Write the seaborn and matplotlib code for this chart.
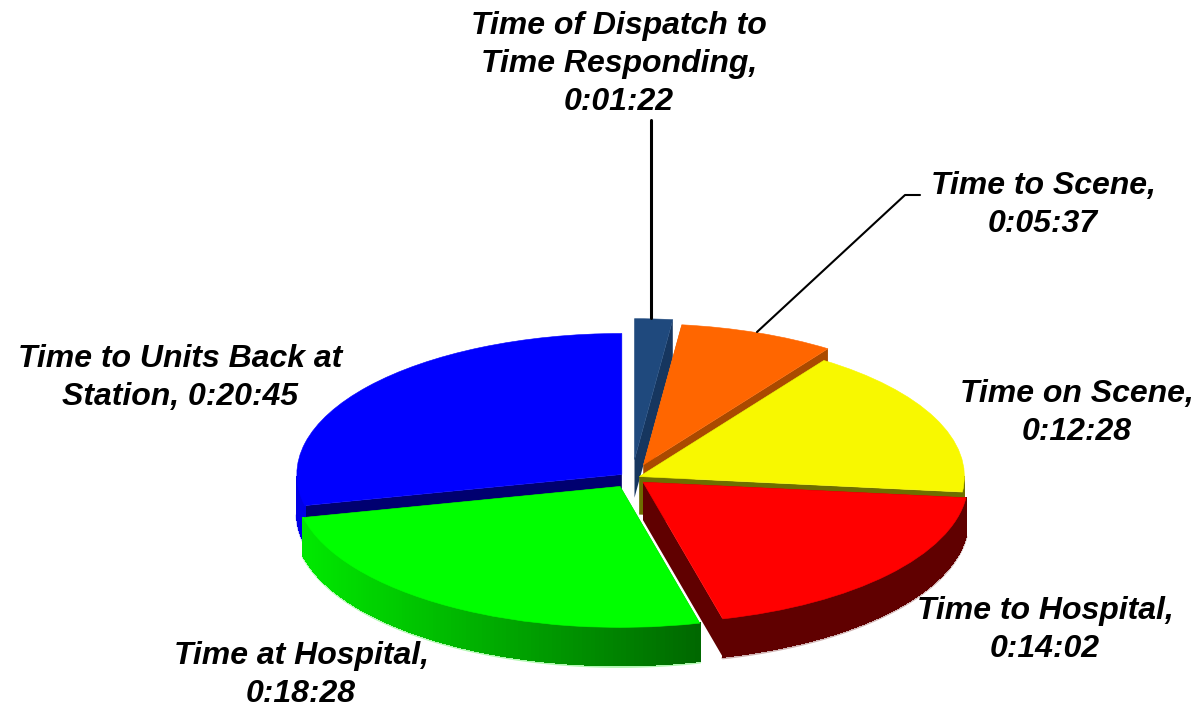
import numpy as np
import seaborn as sns
import matplotlib
matplotlib.use("Agg")
import matplotlib.pyplot as plt
from matplotlib.lines import Line2D
from matplotlib.colors import to_rgb

# Chart data, clockwise from the top
names = [
    "Time of Dispatch to\nTime Responding,",
    "Time to Scene,",
    "Time on Scene,",
    "Time to Hospital,",
    "Time at Hospital,",
    "Time to Units Back at\nStation,",
]
times = ["0:01:22", "0:05:37", "0:12:28", "0:14:02", "0:18:28", "0:20:45"]
explode = [0.13, 0.10, 0.025, 0.045, 0.07, 0.04]
top_colors = ["#1F497D", "#FF6600", "#F8F800", "#FF0000", "#00FF00", "#0000FF"]
rim_left = ["#16365F", "#AA4A00", "#6E6E00", "#600000", "#00E800", "#0000E6"]
rim_right = ["#16365F", "#AA4A00", "#6E6E00", "#600000", "#006800", "#0000E6"]
cut_colors = ["#16365F", "#AA4A00", "#6E6E00", "#600000", "#006800", "#000070"]

W, H = 1203, 707
CX, CY = 632, 478
RX, RY = 325, 141
DEPTH = 38


# Turn h:mm:ss into seconds
def to_seconds(text):
    h, m, s = text.split(":")
    return int(h) * 3600 + int(m) * 60 + int(s)


# Figure position from reference pixels
def px(x, y):
    return x / W, 1 - y / H


values = [to_seconds(t) for t in times]

sns.set_theme(style="white")
plt.rcParams["font.family"] = ["Liberation Sans", "DejaVu Sans"]

fig = plt.figure(figsize=(W / 100, H / 100), dpi=100)
ax = fig.add_axes([0, 0, 1, 1])
wedges, _ = ax.pie(
    values,
    explode=explode,
    colors=sns.color_palette(top_colors),
    startangle=90,
    counterclock=False,
    radius=1,
)
# Squash the pie into the tilted ellipse
ax.set_aspect("auto")
ax.set_xlim(-CX / RX, (W - CX) / RX)
ax.set_ylim(-(H - CY) / RY, CY / RY)
ax.axis("off")

depth = DEPTH / RY
# Back to front drawing order
order = [0, 1, 2, 5, 4, 3]
for z, i in enumerate(order):
    w = wedges[i]
    w.set_zorder(10 + 2 * z + 1)
    w.set_edgecolor(top_colors[i])
    w.set_linewidth(0.4)
    x0, y0 = w.center
    angles = np.radians(np.linspace(w.theta1, w.theta2, 120))
    rim_x = x0 + np.cos(angles) * w.r
    rim_y = y0 + np.sin(angles) * w.r
    c1 = np.array(to_rgb(rim_left[i]))
    c2 = np.array(to_rgb(rim_right[i]))
    base = 10 + 2 * z

    # Flat cut faces
    for ex, ey in [(rim_x[0], rim_y[0]), (rim_x[-1], rim_y[-1])]:
        ax.fill(
            [x0, ex, ex, x0],
            [y0, ey, ey - depth, y0 - depth],
            color=cut_colors[i],
            lw=0,
            zorder=base,
        )

    # Only the front of the rim shows
    front = np.sin(angles) < 0
    if front.sum() < 2:
        continue
    front_x = rim_x[front]
    front_y = rim_y[front]

    # Pale fringe below the rim
    ax.plot(front_x, front_y - depth - 0.008, color=rim_left[i], alpha=0.3, lw=2, zorder=base)

    # Curved outer face, shaded from left to right
    for k in range(len(front_x) - 1):
        t = np.clip((front_x[k] + 1) / 1.2, 0, 1)
        ax.fill(
            [front_x[k], front_x[k + 1], front_x[k + 1], front_x[k]],
            [front_y[k], front_y[k + 1], front_y[k + 1] - depth, front_y[k] - depth],
            color=tuple(c1 * (1 - t) + c2 * t),
            lw=0.6,
            antialiased=False,
            zorder=base,
        )

# Leader lines
for xs, ys, lw in [
    ([651, 651], [120, 318], 2.2),
    ([757, 905, 920], [332, 195, 195], 1.5),
]:
    pts = [px(x, y) for x, y in zip(xs, ys)]
    fig.add_artist(
        Line2D(
            [p[0] for p in pts],
            [p[1] for p in pts],
            color="black",
            lw=lw,
            transform=fig.transFigure,
            zorder=50,
        )
    )

# Label centres in reference pixels
label_pos = [(619, 64), (1043, 205), (1077, 413), (1045, 630), (301, 675), (180, 378)]
for name, time, (x, y) in zip(names, times, label_pos):
    if name.endswith("Station,"):
        text = f"{name} {time}"
    else:
        text = f"{name}\n{time}"
    fx, fy = px(x, y)
    fig.text(
        fx,
        fy,
        text,
        ha="center",
        va="center",
        fontsize=23,
        fontweight="bold",
        fontstyle="italic",
        color="black",
        linespacing=1.33,
        zorder=60,
    )

fig.savefig("out.png", dpi=100, facecolor="white")
